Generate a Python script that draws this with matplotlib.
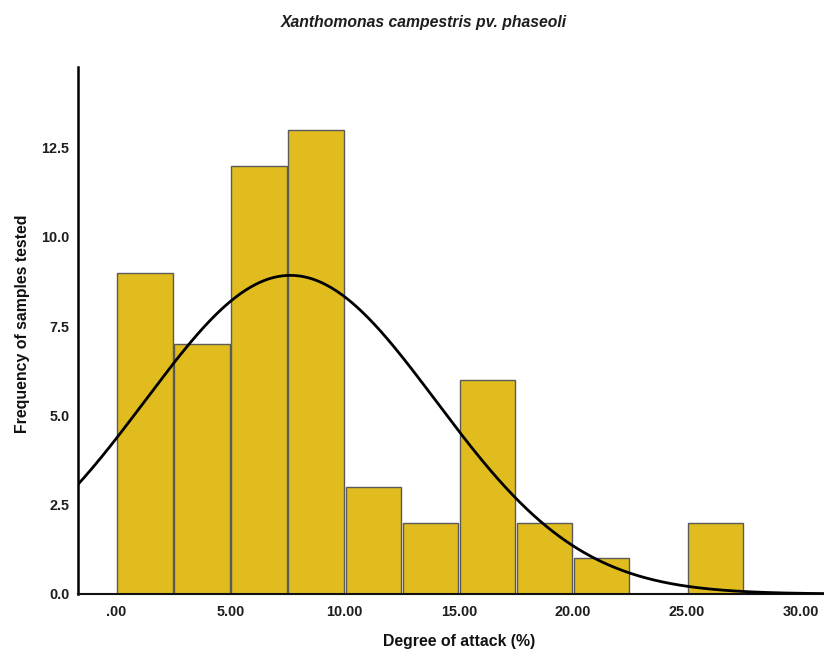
import numpy as np
import matplotlib
matplotlib.use("Agg")
import matplotlib.pyplot as plt

plt.rcParams['font.family'] = ['Liberation Sans', 'DejaVu Sans']

# Data
bin_edges = [0.0, 2.5, 5.0, 7.5, 10.0, 12.5, 15.0, 17.5, 20.0, 22.5, 25.0]
counts = [9, 7, 12, 13, 3, 2, 6, 2, 1, 0, 2]
bin_width = 2.5
n_total = 57
curve_mean = 7.62
curve_sd = 6.37

x_ticks = [0, 5, 10, 15, 20, 25, 30]
x_tick_labels = ['.00', '5.00', '10.00', '15.00', '20.00', '25.00', '30.00']
y_ticks = [0.0, 2.5, 5.0, 7.5, 10.0, 12.5]
y_tick_labels = ['0.0', '2.5', '5.0', '7.5', '10.0', '12.5']

title = 'Xanthomonas campestris pv. phaseoli'
x_label = 'Degree of attack (%)'
y_label = 'Frequency of samples tested'

fig = plt.figure(figsize=(8.24, 6.51), dpi=100)
ax = fig.add_axes([0.0943, 0.0876, 0.9057, 0.8094])

gap = 0.07
ax.bar([e + gap / 2 for e in bin_edges], counts, width=bin_width - gap, align='edge',
       color='#E1BC1F', edgecolor='#5a5a5a', linewidth=1.0, zorder=2)

xlim = (-1.70, 31.0)
xs = np.linspace(xlim[0], xlim[1], 600)
ys = n_total * bin_width / (curve_sd * np.sqrt(2 * np.pi)) * np.exp(-0.5 * ((xs - curve_mean) / curve_sd) ** 2)
ax.plot(xs, ys, color='black', linewidth=2.0, zorder=3)

ax.set_xlim(*xlim)
ax.set_ylim(0, 14.76)

ax.set_xticks(x_ticks)
ax.set_xticklabels(x_tick_labels)
ax.set_yticks(y_ticks)
ax.set_yticklabels(y_tick_labels)
ax.tick_params(axis='both', length=0, labelsize=10.4, colors='#1e1e1e')
for lab in ax.get_xticklabels() + ax.get_yticklabels():
    lab.set_fontweight('bold')
ax.tick_params(axis='x', pad=8)
ax.tick_params(axis='y', pad=6)

for s in ['top', 'right']:
    ax.spines[s].set_visible(False)
ax.spines['left'].set_linewidth(1.8)
ax.spines['bottom'].set_linewidth(1.5)
ax.spines['left'].set_color('black')
ax.spines['bottom'].set_color('#111111')

fig.text(0.514, 0.966, title, ha='center', va='center', fontsize=11.3, style='italic',
         fontweight='bold', color='#1e1e1e')
fig.text(0.557, 0.014, x_label, ha='center', va='center', fontsize=11.4, fontweight='bold', color='#111111')
fig.text(0.027, 0.503, y_label, ha='center', va='center', fontsize=11.4, fontweight='bold',
         rotation=90, color='#111111')

fig.savefig('out.png', dpi=100)
